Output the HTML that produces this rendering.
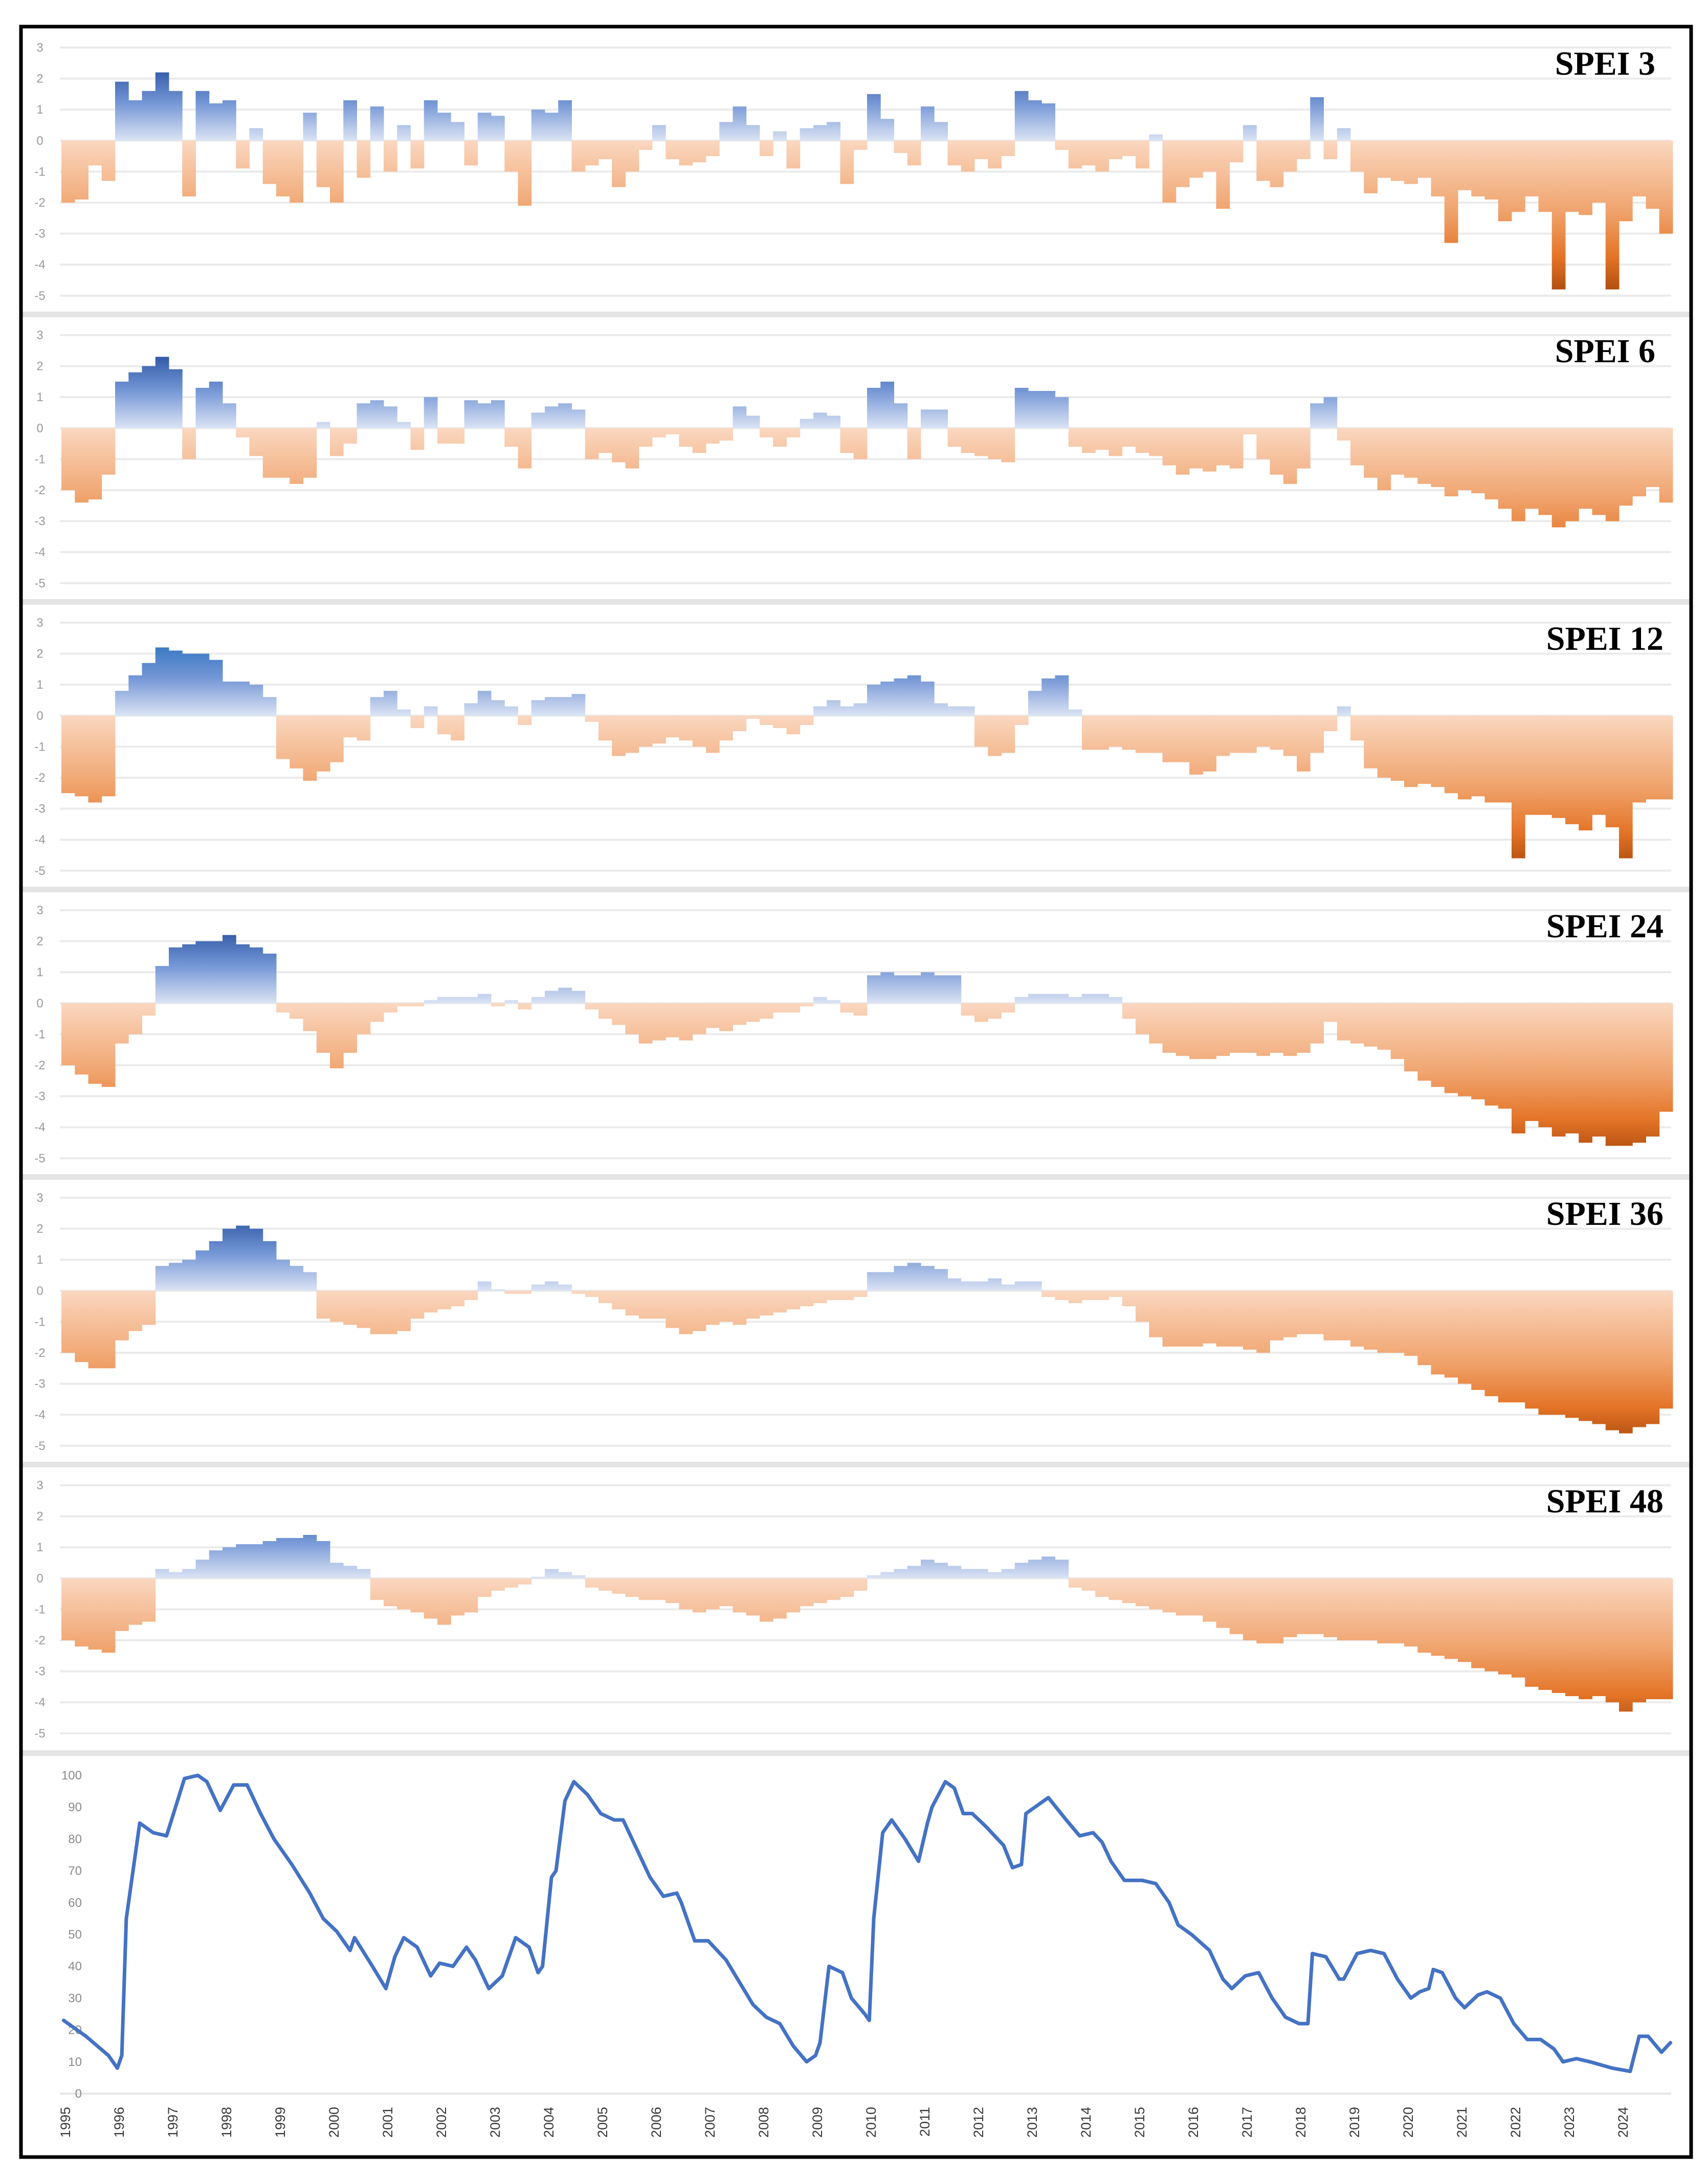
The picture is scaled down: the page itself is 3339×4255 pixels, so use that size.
<!DOCTYPE html>
<html>
<head>
<meta charset="utf-8">
<style>
html,body{margin:0;padding:0;background:#fff;}
svg{display:block;}
</style>
</head>
<body>
<svg id="chart" xmlns="http://www.w3.org/2000/svg" width="3339" height="4255" viewBox="0 0 3339 4255">
<rect x="0" y="0" width="3339" height="4255" fill="#ffffff"/>
<g id="layer"></g>
<rect x="41" y="52" width="3265" height="4164" fill="none" stroke="#000" stroke-width="7"/>
</svg>
<script>
// ---- data (quarterly values, 1995 Q1 .. 2024 Q4) ----
const startYear = 1995;
const nYears = 30;
const speiTicks = [3,2,1,0,-1,-2,-3,-4,-5];
const lineTicks = [0,10,20,30,40,50,60,70,80,90,100];
const yearLabels = [1995,1996,1997,1998,1999,2000,2001,2002,2003,2004,2005,2006,2007,2008,2009,2010,2011,2012,2013,2014,2015,2016,2017,2018,2019,2020,2021,2022,2023,2024];
const panelTitles = ["SPEI 3","SPEI 6","SPEI 12","SPEI 24","SPEI 36","SPEI 48"];

const spei3 = [-2.0,-1.9,-0.8,-1.3, 1.9,1.3,1.6,2.2, 1.6,-1.8,1.6,1.2, 1.3,-0.9,0.4,-1.4, -1.8,-2.0,0.9,-1.5,
 -2.0,1.3,-1.2,1.1, -1.0,0.5,-0.9,1.3, 0.9,0.6,-0.8,0.9, 0.8,-1.0,-2.1,1.0, 0.9,1.3,-1.0,-0.8,
 -0.6,-1.5,-1.0,-0.3, 0.5,-0.6,-0.8,-0.7, -0.5,0.6,1.1,0.5, -0.5,0.3,-0.9,0.4, 0.5,0.6,-1.4,-0.3,
 1.5,0.7,-0.4,-0.8, 1.1,0.6,-0.8,-1.0, -0.6,-0.9,-0.5,1.6, 1.3,1.2,-0.3,-0.9, -0.8,-1.0,-0.6,-0.5,
 -0.9,0.2,-2.0,-1.5, -1.2,-1.0,-2.2,-0.7, 0.5,-1.3,-1.5,-1.0, -0.6,1.4,-0.6,0.4, -1.0,-1.7,-1.2,-1.3,
 -1.4,-1.2,-1.8,-3.3, -1.6,-1.8,-1.9,-2.6, -2.3,-1.8,-2.3,-4.8, -2.3,-2.4,-2.0,-4.8, -2.6,-1.8,-2.2,-3.0];

const spei6 = [-2.0,-2.4,-2.3,-1.5, 1.5,1.8,2.0,2.3, 1.9,-1.0,1.3,1.5, 0.8,-0.3,-0.9,-1.6, -1.6,-1.8,-1.6,0.2,
 -0.9,-0.5,0.8,0.9, 0.7,0.2,-0.7,1.0, -0.5,-0.5,0.9,0.8, 0.9,-0.6,-1.3,0.5, 0.7,0.8,0.6,-1.0,
 -0.8,-1.1,-1.3,-0.6, -0.3,-0.2,-0.6,-0.8, -0.5,-0.4,0.7,0.4, -0.3,-0.6,-0.3,0.3, 0.5,0.4,-0.8,-1.0,
 1.3,1.5,0.8,-1.0, 0.6,0.6,-0.6,-0.8, -0.9,-1.0,-1.1,1.3, 1.2,1.2,1.0,-0.6, -0.8,-0.7,-0.9,-0.6,
 -0.8,-0.9,-1.2,-1.5, -1.3,-1.4,-1.2,-1.3, -0.2,-1.0,-1.5,-1.8, -1.3,0.8,1.0,-0.4, -1.2,-1.6,-2.0,-1.5,
 -1.6,-1.8,-1.9,-2.2, -2.0,-2.1,-2.3,-2.6, -3.0,-2.6,-2.8,-3.2, -3.0,-2.6,-2.8,-3.0, -2.5,-2.2,-1.9,-2.4];

const spei12 = [-2.5,-2.6,-2.8,-2.6, 0.8,1.3,1.7,2.2, 2.1,2.0,2.0,1.8, 1.1,1.1,1.0,0.6, -1.4,-1.7,-2.1,-1.8,
 -1.5,-0.7,-0.8,0.6, 0.8,0.2,-0.4,0.3, -0.6,-0.8,0.4,0.8, 0.5,0.3,-0.3,0.5, 0.6,0.6,0.7,-0.2,
 -0.8,-1.3,-1.2,-1.0, -0.9,-0.7,-0.8,-1.0, -1.2,-0.8,-0.5,-0.1, -0.3,-0.4,-0.6,-0.3, 0.3,0.5,0.3,0.4,
 1.0,1.1,1.2,1.3, 1.1,0.4,0.3,0.3, -1.0,-1.3,-1.2,-0.3, 0.8,1.2,1.3,0.2, -1.1,-1.1,-1.0,-1.1,
 -1.2,-1.2,-1.5,-1.5, -1.9,-1.8,-1.3,-1.2, -1.2,-1.0,-1.1,-1.3, -1.8,-1.2,-0.5,0.3, -0.8,-1.7,-2.0,-2.1,
 -2.3,-2.2,-2.3,-2.5, -2.7,-2.6,-2.8,-2.8, -4.6,-3.2,-3.2,-3.3, -3.5,-3.7,-3.2,-3.6, -4.6,-2.8,-2.7,-2.7];

const spei24 = [-2.0,-2.3,-2.6,-2.7, -1.3,-1.0,-0.4,1.2, 1.8,1.9,2.0,2.0, 2.2,1.9,1.8,1.6, -0.3,-0.5,-0.9,-1.6,
 -2.1,-1.6,-1.0,-0.6, -0.3,-0.1,-0.1,0.1, 0.2,0.2,0.2,0.3, -0.1,0.1,-0.2,0.2, 0.4,0.5,0.4,-0.2,
 -0.5,-0.7,-1.0,-1.3, -1.2,-1.1,-1.2,-1.0, -0.8,-0.9,-0.7,-0.6, -0.5,-0.3,-0.3,-0.1, 0.2,0.1,-0.3,-0.4,
 0.9,1.0,0.9,0.9, 1.0,0.9,0.9,-0.4, -0.6,-0.5,-0.3,0.2, 0.3,0.3,0.3,0.2, 0.3,0.3,0.2,-0.5,
 -1.0,-1.3,-1.6,-1.7, -1.8,-1.8,-1.7,-1.6, -1.6,-1.7,-1.6,-1.7, -1.6,-1.3,-0.6,-1.2, -1.3,-1.4,-1.5,-1.8,
 -2.2,-2.5,-2.7,-2.9, -3.0,-3.1,-3.3,-3.4, -4.2,-3.8,-4.0,-4.3, -4.2,-4.5,-4.3,-4.6, -4.6,-4.5,-4.3,-3.5];

const spei36 = [-2.0,-2.3,-2.5,-2.5, -1.6,-1.3,-1.1,0.8, 0.9,1.0,1.3,1.6, 2.0,2.1,2.0,1.6, 1.0,0.8,0.6,-0.9,
 -1.0,-1.1,-1.2,-1.4, -1.4,-1.3,-0.9,-0.7, -0.6,-0.5,-0.3,0.3, 0.05,-0.1,-0.1,0.2, 0.3,0.2,-0.1,-0.2,
 -0.4,-0.6,-0.8,-0.9, -0.9,-1.2,-1.4,-1.3, -1.1,-1.0,-1.1,-0.9, -0.8,-0.7,-0.6,-0.5, -0.4,-0.3,-0.3,-0.2,
 0.6,0.6,0.8,0.9, 0.8,0.7,0.4,0.3, 0.3,0.4,0.2,0.3, 0.3,-0.2,-0.3,-0.4, -0.3,-0.3,-0.2,-0.5,
 -1.0,-1.5,-1.8,-1.8, -1.8,-1.7,-1.8,-1.8, -1.9,-2.0,-1.6,-1.5, -1.4,-1.4,-1.6,-1.6, -1.8,-1.9,-2.0,-2.0,
 -2.1,-2.4,-2.7,-2.8, -3.0,-3.2,-3.4,-3.6, -3.6,-3.8,-4.0,-4.0, -4.1,-4.2,-4.3,-4.5, -4.6,-4.4,-4.3,-3.8];

const spei48 = [-2.0,-2.2,-2.3,-2.4, -1.7,-1.5,-1.4,0.3, 0.2,0.3,0.6,0.9, 1.0,1.1,1.1,1.2, 1.3,1.3,1.4,1.2,
 0.5,0.4,0.3,-0.7, -0.9,-1.0,-1.1,-1.3, -1.5,-1.2,-1.1,-0.6, -0.4,-0.3,-0.2,0.05, 0.3,0.2,0.1,-0.3,
 -0.4,-0.5,-0.6,-0.7, -0.7,-0.8,-1.0,-1.1, -1.0,-0.9,-1.1,-1.2, -1.4,-1.3,-1.1,-0.9, -0.8,-0.7,-0.6,-0.4,
 0.1,0.2,0.3,0.4, 0.6,0.5,0.4,0.3, 0.3,0.2,0.3,0.5, 0.6,0.7,0.6,-0.3, -0.4,-0.6,-0.7,-0.8,
 -0.9,-1.0,-1.1,-1.2, -1.2,-1.4,-1.6,-1.8, -2.0,-2.1,-2.1,-1.9, -1.8,-1.8,-1.9,-2.0, -2.0,-2.0,-2.1,-2.1,
 -2.2,-2.4,-2.5,-2.6, -2.7,-2.9,-3.0,-3.1, -3.2,-3.5,-3.6,-3.7, -3.8,-3.9,-3.8,-4.0, -4.3,-4.0,-3.9,-3.9];

const lineMonths = [0,5,10,12,13,14,16,17,20,23,25,27,30,32,34,35,38,41,44,47,51,55,58,61,64,65,69,72,74,76,79,82,84,87,90,92,95,98,101,104,106,107,109,110,112,114,117,120,123,125,127,131,134,137,138,141,144,148,151,154,157,160,163,166,168,169,171,174,176,179,180,181,183,185,188,191,193,194,197,199,201,203,206,210,212,214,215,217,220,224,227,230,232,234,237,241,244,247,249,252,256,259,261,264,267,270,273,276,278,279,282,285,286,289,292,295,298,301,303,305,306,308,311,313,316,318,321,324,327,330,333,335,338,341,346,350,352,354,357,359];
const lineValues = [23,18,12,8,12,55,75,85,82,81,90,99,100,98,92,89,97,97,88,80,72,63,55,51,45,49,40,33,43,49,46,37,41,40,46,42,33,37,49,46,38,40,68,70,92,98,94,88,86,86,80,68,62,63,60,48,48,42,35,28,24,22,15,10,12,16,40,38,30,25,23,55,82,86,80,73,85,90,98,96,88,88,84,78,71,72,88,90,93,86,81,82,79,73,67,67,66,60,53,50,45,36,33,37,38,30,24,22,22,44,43,36,36,44,45,44,36,30,32,33,39,38,30,27,31,32,30,22,17,17,14,10,11,10,8,7,18,18,13,16];

const allSeries = [spei3, spei6, spei12, spei24, spei36, spei48];

// ---- layout ----
const NS = "http://www.w3.org/2000/svg";
const layer = document.getElementById('layer');
const X0 = 120, PX_PER_YEAR = 105;
const PANEL_TOP0 = 49, PANEL_H = 562;
function xQuarter(i){ return X0 + i * PX_PER_YEAR / 4; }
function xMonth(m){ return X0 + (m + 0.5) * PX_PER_YEAR / 12; }
function ySpei(p, v){ return PANEL_TOP0 + p*PANEL_H + 44 + (3 - v) * 60.6; }
function yLine(v){ return 4092 - v * 6.22; }
function mk(tag, attrs, parent){
  const e = document.createElementNS(NS, tag);
  for (const k in attrs) e.setAttribute(k, attrs[k]);
  (parent || layer).appendChild(e);
  return e;
}

// gradients
const defs = mk('defs', {});
for (let p = 0; p < 6; p++){
  const gb = mk('linearGradient', {id:'blue'+p, gradientUnits:'userSpaceOnUse', x1:0, x2:0, y1:ySpei(p,2.4), y2:ySpei(p,0)}, defs);
  mk('stop', {offset:'0', 'stop-color': p===2 ? '#2f74c0' : '#2c55a3'}, gb);
  mk('stop', {offset:'0.5', 'stop-color':'#7597d6'}, gb);
  mk('stop', {offset:'1', 'stop-color':'#dbe3f4'}, gb);
  const go = mk('linearGradient', {id:'orange'+p, gradientUnits:'userSpaceOnUse', x1:0, x2:0, y1:ySpei(p,0), y2:ySpei(p,-5)}, defs);
  mk('stop', {offset:'0', 'stop-color':'#fad7c0'}, go);
  mk('stop', {offset:'0.45', 'stop-color':'#f0a46e'}, go);
  mk('stop', {offset:'0.75', 'stop-color':'#e47427'}, go);
  mk('stop', {offset:'1', 'stop-color':'#a9480c'}, go);
}

// SPEI panels
for (let p = 0; p < 6; p++){
  const g = mk('g', {});
  
  
  const top = PANEL_TOP0 + p*PANEL_H;
  if (p > 0){
    const sep = mk('rect', {x:44, y:top-2, width:3259, height:11, fill:'#e4e4e4'}, g);
    
    
  }
  speiTicks.forEach(t => {
    const gl = mk('rect', {x:117, y:ySpei(p,t)-2, width:3150, height:4, fill:'#ebebeb'}, g);
    
    
    const lb = mk('text', {x:78, y:ySpei(p,t)+8, 'text-anchor':'middle', 'font-family':'Liberation Sans, sans-serif', 'font-size':24, fill:'#9a9a9a'}, g);
    lb.textContent = String(t);
    
    
  });
  const s = allSeries[p];
  const w = PX_PER_YEAR/4;
  s.forEach((v, i) => {
    const y0 = ySpei(p,0), y1 = ySpei(p,v);
    const r = mk('rect', {x:xQuarter(i), y:Math.min(y0,y1), width:w+0.5, height:Math.max(1,Math.abs(y1-y0)), fill: v >= 0 ? 'url(#blue'+p+')' : 'url(#orange'+p+')'}, g);
    
    
  });
  const tt = mk('text', {x: p < 2 ? 3236 : 3252, y: top+97, 'text-anchor':'end', 'font-family':'Liberation Serif, serif', 'font-weight':'bold', 'font-size':66, fill:'#000'}, g);
  tt.textContent = panelTitles[p];
  
  
}

// line panel
const lg = mk('g', {});


const sepL = mk('rect', {x:44, y:3421, width:3259, height:11, fill:'#e4e4e4'}, lg);


const zl = mk('rect', {x:117, y:yLine(0)-2, width:3150, height:4, fill:'#e6e6e6'}, lg);


lineTicks.forEach(t => {
  const lb = mk('text', {x:160, y:yLine(t)+8, 'text-anchor':'end', 'font-family':'Liberation Sans, sans-serif', 'font-size':24, fill:'#8a8a8a'}, lg);
  lb.textContent = String(t);
  
  
});
yearLabels.forEach((yr, i) => {
  const x = X0 + 8 + i*PX_PER_YEAR;
  const lb = mk('text', {x:x+9, y:4118, 'text-anchor':'end', transform:'rotate(-90 '+(x+9)+' 4118)', 'font-family':'Liberation Sans, sans-serif', 'font-size':27, fill:'#3a3a3a'}, lg);
  lb.textContent = String(yr);
  
  
});
let d = '';
lineMonths.forEach((m, i) => { d += (i ? 'L' : 'M') + xMonth(m).toFixed(1) + ' ' + yLine(lineValues[i]).toFixed(1) + ' '; });
const path = mk('path', {d:d, fill:'none', stroke:'#4472c4', 'stroke-width':7, 'stroke-linejoin':'round', 'stroke-linecap':'round'}, lg);


</script>
</body>
</html>
